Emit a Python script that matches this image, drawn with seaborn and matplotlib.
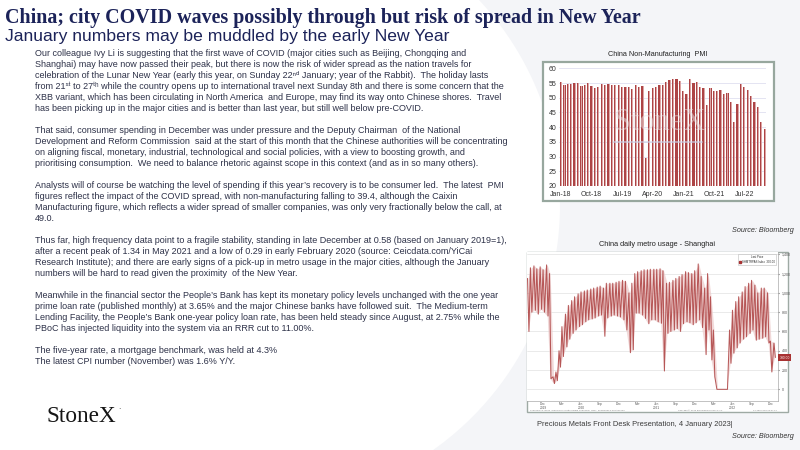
import numpy as np
import pandas as pd
import matplotlib
matplotlib.use("Agg")
import matplotlib.pyplot as plt
import matplotlib.transforms as mtransforms
from matplotlib.patches import Rectangle, Polygon
from matplotlib.lines import Line2D
import seaborn as sns

# ---------------- slide text ----------------
title = "China; city COVID waves possibly through but risk of spread in New Year"
subtitle = "January numbers may be muddled by the early New Year"
body_lines = [
    "Our colleague Ivy Li is suggesting that the first wave of COVID (major cities such as Beijing, Chongqing and",
    "Shanghai) may have now passed their peak, but there is now the risk of wider spread as the nation travels for",
    "celebration of the Lunar New Year (early this year, on Sunday 22\u207f\u1d48 January; year of the Rabbit).  The holiday lasts",
    "from 21\u02e2\u1d57 to 27\u1d57\u02b0 while the country opens up to international travel next Sunday 8th and there is some concern that the",
    "XBB variant, which has been circulating in North America  and Europe, may find its way onto Chinese shores.  Travel",
    "has been picking up in the major cities and is better than last year, but still well below pre-COVID.",
    "",
    "That said, consumer spending in December was under pressure and the Deputy Chairman  of the National",
    "Development and Reform Commission  said at the start of this month that the Chinese authorities will be concentrating",
    "on aligning fiscal, monetary, industrial, technological and social policies, with a view to boosting growth, and",
    "prioritising consumption.  We need to balance rhetoric against scope in this context (and as in so many others).",
    "",
    "Analysts will of course be watching the level of spending if this year\u2019s recovery is to be consumer led.  The latest  PMI",
    "figures reflect the impact of the COVID spread, with non-manufacturing falling to 39.4, although the Caixin",
    "Manufacturing figure, which reflects a wider spread of smaller companies, was only very fractionally below the call, at",
    "49.0.",
    "",
    "Thus far, high frequency data point to a fragile stability, standing in late December at 0.58 (based on January 2019=1),",
    "after a recent peak of 1.34 in May 2021 and a low of 0.29 in early February 2020 (source: Ceicdata.com/YiCai",
    "Research Institute); and there are early signs of a pick-up in metro usage in the major cities, although the January",
    "numbers will be hard to read given the proximity  of the New Year.",
    "",
    "Meanwhile in the financial sector the People\u2019s Bank has kept its monetary policy levels unchanged with the one year",
    "prime loan rate (published monthly) at 3.65% and the major Chinese banks have followed suit.  The Medium-term",
    "Lending Facility, the People\u2019s Bank one-year policy loan rate, has been held steady since August, at 2.75% while the",
    "PBoC has injected liquidity into the system via an RRR cut to 11.00%.",
    "",
    "The five-year rate, a mortgage benchmark, was held at 4.3%",
    "The latest CPI number (November) was 1.6% Y/Y.",
]
footer = "Precious Metals Front Desk Presentation, 4 January 2023|"
source = "Source: Bloomberg"

# ---------------- China non-manufacturing PMI (monthly from Jan-18) ----------------
pmi_months = pd.date_range("2018-01-01", periods=61, freq="MS").strftime("%b-%y").tolist()
pmi_values = [
    55.3, 54.4, 54.6, 54.8, 54.9, 55.0, 54.0, 54.2, 54.9, 53.9, 53.4, 53.8,
    54.7, 54.3, 54.8, 54.3, 54.3, 54.2, 53.7, 53.8, 53.7, 52.8, 54.4, 53.5,
    54.1, 29.6, 52.3, 53.2, 53.6, 54.4, 54.2, 55.2, 55.9, 56.2, 56.4, 55.7,
    52.4, 51.4, 56.3, 54.9, 55.2, 53.5, 53.3, 47.5, 53.2, 52.4, 52.3, 52.7,
    51.1, 51.6, 48.4, 41.9, 47.8, 54.7, 53.8, 52.6, 50.6, 48.7, 46.7, 41.6,
    39.4,
]
pmi_tick_labels = ["Jan-18", "Oct-18", "Jul-19", "Apr-20", "Jan-21", "Oct-21", "Jul-22"]

# ---------------- Shanghai metro usage (10k trips), read per half month ----------------
# weekday peak and weekend trough within each half month
metro_dates = pd.date_range("2019-10-01", "2023-01-01", freq="SMS")
metro_weekday = [
    1150, 1260, 1280, 1250, 1270, 1240,
    1290, 1200, 130, 180, 400, 650, 780, 870,
    920, 960, 990, 1010, 1020, 1030, 1040, 1050,
    1060, 1070, 1050, 1100, 1100, 1100, 1110, 1120,
    1130, 1120, 1000, 1100, 1200, 1220, 1230, 1240,
    1240, 1245, 1245, 1245, 1250, 1230, 1100, 1110,
    1130, 1150, 1170, 1190, 1220, 1210, 1200, 1230,
    1300, 1170, 1050, 1200, 960, 615, 0, 0,
    0, 0, 615, 820, 910, 960, 1010, 1065,
    1100, 1130, 1080, 1000, 1050, 1050, 1000, 500,
    480,
]
metro_weekend = [
    600, 800, 820, 780, 830, 800,
    760, 110, 60, 90, 230, 340, 440, 520,
    580, 615, 650, 670, 700, 720, 730, 740,
    760, 770, 550, 740, 760, 770, 760, 750,
    720, 615, 380, 410, 790, 790, 770, 735,
    680, 720, 720, 700, 685, 190, 580, 600,
    615, 630, 600, 680, 700, 690, 670, 690,
    720, 640, 360, 615, 305, 130, 0, 0,
    0, 0, 270, 375, 430, 480, 520, 545,
    580, 615, 510, 520, 530, 545, 480, 180,
    330,
]
metro_label_months = ["Dec", "Mar", "Jun", "Sep"] * 3 + ["Dec"]
metro_label_years = {0: "2019", 2: "2020", 6: "2021", 10: "2022"}

# ---------------- figure ----------------
sns.set_style("white")
plt.rcParams["font.family"] = ["Liberation Sans", "DejaVu Sans"]

W, H = 800, 450
fig = plt.figure(figsize=(8, 4.5), dpi=100, facecolor="white")


def box(x0, y0, x1, y1):
    return [x0 / W, 1 - y1 / H, (x1 - x0) / W, (y1 - y0) / H]


bg = fig.add_axes([0, 0, 1, 1])
bg.set_xlim(0, W)
bg.set_ylim(H, 0)
bg.axis("off")

# faint logo shape in the background
arc_y = np.linspace(0, H, 60)
arc_x = 260 + np.sqrt(300 ** 2 - (arc_y - 205) ** 2)
shape = np.column_stack([np.r_[arc_x, W, W], np.r_[arc_y, H, 0]])
bg.add_patch(Polygon(shape, closed=True, fc="#f4f5f8", ec="none", zorder=0))

# chart frames
bg.add_patch(Rectangle((542.7, 61.7), 231.3, 139.3, fc="white", ec="#97a79e", lw=1.6, zorder=1))
bg.add_patch(Rectangle((527.3, 251.7), 260.4, 160, fc="white", ec="#9eaaa4", lw=1.0, zorder=1))

renderer = fig.canvas.get_renderer()


def fit_width(texts, width):
    widest = max(t.get_window_extent(renderer).width for t in texts)
    for t in texts:
        t.set_fontsize(t.get_fontsize() * width / widest)


navy = "#1c2359"
t_title = bg.text(5, 22.7, title, fontsize=13, fontweight="bold", color=navy,
                  family="Liberation Serif", va="baseline", zorder=3)
fit_width([t_title], 640.7 - 5)

body = []
for i, line in enumerate(body_lines):
    if line:
        body.append(bg.text(35, 54 + 11.0 * i + 2.3, line, fontsize=6, color="#2d3148",
                            va="baseline", zorder=3))
fit_width(body, 512 - 35)

line1_end = body[0].get_window_extent(renderer).x1
t_sub = bg.text(5, 41.5, subtitle, fontsize=11, color=navy, va="baseline", zorder=3)
fit_width([t_sub], line1_end - 18 - 5)

t_logo = bg.text(47, 422, "StoneX", fontsize=14, color="#151515",
                 family="Liberation Serif", va="baseline", zorder=3)
fit_width([t_logo], 70)
bg.text(118.5, 411.5, "\u00b7", fontsize=5, color="#151515", zorder=3)

t_foot = bg.text(537.3, 424, footer, fontsize=5.5, color="#3a3a3a", va="center", zorder=3)
fit_width([t_foot], 196)

for y in (230.7, 436):
    bg.text(793.3, y, source, fontsize=5.2, style="italic", color="#333",
            ha="right", va="center", zorder=3)

t_pmi = bg.text(658, 54, "China Non-Manufacturing  PMI", fontsize=5.6, color="#222",
                ha="center", va="center", zorder=3)
fit_width([t_pmi], 99)
t_metro = bg.text(657.3, 244.3, "China daily metro usage - Shanghai", fontsize=5.6, color="#222",
                  ha="center", va="center", zorder=3)
fit_width([t_metro], 117)

# bloomberg strip under the metro chart
strip_y = 410.4
bg.text(529.5, strip_y, "SHMTRPAS Index (China Daily Metro Usage Shanghai)  Daily  30SEP2019-03JAN2023",
        fontsize=1.7, color="#777", va="center", zorder=3)
bg.text(700, strip_y, "Copyright\u00a9 2023 Bloomberg Finance L.P.", fontsize=1.7, color="#777",
        ha="center", va="center", zorder=3)
bg.text(777, strip_y, "04-Jan-2023 10:27:51", fontsize=1.7, color="#777",
        ha="right", va="center", zorder=3)

# ---------------- PMI bar chart ----------------
ax1 = fig.add_axes(box(559.3, 68.3, 766.4, 186))
ax1.patch.set_alpha(0)
sns.barplot(x=pmi_months, y=pmi_values, color="#ad4445", saturation=1, width=0.68,
            linewidth=0, edgecolor="none", ax=ax1, zorder=2)
ax1.bar(np.arange(len(pmi_values)) + 0.17, np.array(pmi_values) - 20, bottom=20,
        width=0.28, color="#dca5a5", lw=0, edgecolor="none", zorder=3)
ax1.set_ylim(20, 60)
ax1.set_xlim(-0.5, len(pmi_values) - 0.5)
ax1.set_yticks(range(20, 61, 5))
ax1.set_xticks([pmi_months.index(m) for m in pmi_tick_labels])
ax1.set_xticklabels(pmi_tick_labels)
ax1.tick_params(labelsize=5, colors="#333", length=0)
ax1.tick_params(axis="y", pad=2)
ax1.tick_params(axis="x", pad=3.5)
ax1.grid(axis="y", color="#e4e4f2", lw=0.7)
ax1.set_axisbelow(True)
ax1.set_xlabel("")
ax1.set_ylabel("")
for s in ax1.spines.values():
    s.set_visible(False)

fig.text(660 / W, 1 - 123 / H, "StoneX", fontsize=22, family="Liberation Serif",
         color="#e9e4e6", alpha=0.5, ha="center", va="center")
fig.add_artist(Line2D([614 / W, 702 / W], [1 - 141.5 / H] * 2, color="#cdd4ea",
                      lw=1.4, alpha=0.6, transform=fig.transFigure))

# ---------------- metro line chart ----------------
ax2 = fig.add_axes(box(527.3, 251.7, 778.3, 401))
ax2.set_facecolor("white")
trough_dates = metro_dates + pd.Timedelta(days=7)
zigzag = pd.DataFrame({
    "date": np.ravel(np.column_stack([metro_dates.values, trough_dates.values])),
    "usage": np.ravel(np.column_stack([metro_weekday, metro_weekend])),
})
# light band between weekday peaks and weekend troughs, then the daily trace on top
ax2.fill_between(metro_dates + pd.Timedelta(days=3), metro_weekend, metro_weekday,
                 color="#eccaca", alpha=0.7, lw=0)
sns.lineplot(data=zigzag, x="date", y="usage", sort=False, estimator=None,
             color="#b04848", lw=0.75, alpha=0.9, ax=ax2)
ax2.set_xlim(pd.Timestamp("2019-09-30"), pd.Timestamp("2023-01-22"))
ax2.set_ylim(-121, 1427)
ax2.yaxis.tick_right()
ax2.set_yticks(range(0, 1401, 200))
ax2.set_yticklabels([f"{v:,}" for v in range(0, 1401, 200)])
ax2.tick_params(axis="y", labelsize=2.6, colors="#555", length=1, pad=1.5)

label_pos = pd.date_range("2019-12-01", "2022-12-01", freq="3MS") + pd.Timedelta(days=14)
labels = [m + ("\n" + metro_label_years[i] if i in metro_label_years else "")
          for i, m in enumerate(metro_label_months)]
ax2.set_xticks(label_pos)
ax2.set_xticklabels(labels, linespacing=0.95)
ax2.set_xticks(pd.date_range("2019-10-01", "2023-01-01", freq="MS"), minor=True)
ax2.tick_params(axis="x", which="major", labelsize=2.3, colors="#555", length=0, pad=0.8)
ax2.tick_params(axis="x", which="minor", length=1.2, color="#999")
ax2.grid(axis="y", color="#e2e2e2", lw=0.5)
ax2.set_xlabel("")
ax2.set_ylabel("")
for side in ("left", "top"):
    ax2.spines[side].set_visible(False)
for side in ("bottom", "right"):
    ax2.spines[side].set_color("#aaaaaa")
    ax2.spines[side].set_linewidth(0.5)

last = metro_weekend[-1]
tr = mtransforms.blended_transform_factory(ax2.transAxes, ax2.transData)
ax2.text(1.005, last, f"{last:.2f}", transform=tr, fontsize=2.4, color="white",
         ha="left", va="center", clip_on=False,
         bbox=dict(fc="#a83232", ec="none", boxstyle="square,pad=0.4"))
handle = Line2D([], [], marker="s", color="#a83232", ls="none", ms=1.6)
leg = ax2.legend([handle], [f"SHMTRPAS Index  {last:.2f}"], title="Last Price",
                 loc="upper right", bbox_to_anchor=(0.997, 0.995), fontsize=2,
                 title_fontsize=2, frameon=True, fancybox=False, edgecolor="#aaaaaa",
                 borderpad=0.3, handletextpad=0.3, handlelength=0.8)
leg.get_frame().set_linewidth(0.4)

fig.savefig("out.png", dpi=100, facecolor="white")
